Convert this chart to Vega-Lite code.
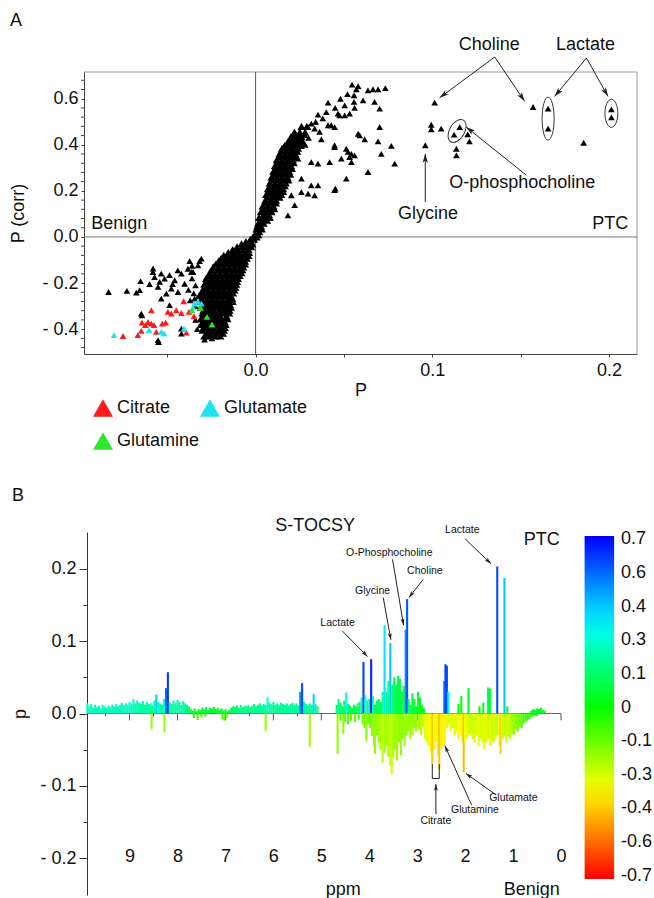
{
"$schema": "https://vega.github.io/schema/vega-lite/v6.json",
"padding": {"left": 9, "top": 12, "right": 0, "bottom": 0},
"spacing": 36,
"config": {
  "font": "Liberation Sans",
  "view": {"stroke": null},
  "axis": {"labelFont": "Liberation Sans", "titleFont": "Liberation Sans", "labelFontSize": 18, "titleFontSize": 18, "titleFontWeight": "normal", "labelColor": "#111", "titleColor": "#111", "domainColor": "#444", "tickColor": "#444", "grid": false, "labelOverlap": false, "labelFlush": false},
  "legend": {"labelFont": "Liberation Sans"},
  "text": {"font": "Liberation Sans", "color": "#111"},
  "title": {"font": "Liberation Sans", "fontSize": 18, "fontWeight": "normal", "color": "#111", "anchor": "start", "frame": "bounds"}
},
"resolve": {"scale": {"color": "independent", "x": "independent", "y": "independent"}, "legend": {"color": "independent"}},
"datasets": {
  "one": [{}],
  "aYMinor": [{"t":-0.48},{"t":-0.44},{"t":-0.36},{"t":-0.32},{"t":-0.28},{"t":-0.24},{"t":-0.16},{"t":-0.12},{"t":-0.08},{"t":-0.04},{"t":0.04},{"t":0.08},{"t":0.12},{"t":0.16},{"t":0.24},{"t":0.28},{"t":0.32},{"t":0.36},{"t":0.44},{"t":0.48},{"t":0.52},{"t":0.56},{"t":0.64},{"t":0.68}],
  "aSparse": [
{"x":0.0546,"y":0.661},{"x":0.057,"y":0.641},{"x":0.0557,"y":0.615},{"x":0.0557,"y":0.586},{"x":0.056,"y":0.56},{"x":0.0636,"y":0.636},{"x":0.0664,"y":0.641},{"x":0.0693,"y":0.641},{"x":0.0734,"y":0.646},{"x":0.0504,"y":0.571},{"x":0.0466,"y":0.535},{"x":0.0504,"y":0.528},{"x":0.0532,"y":0.535},{"x":0.0608,"y":0.593},{"x":0.0673,"y":0.586},{"x":0.0702,"y":0.557},{"x":0.0428,"y":0.485},{"x":0.0702,"y":0.477},{"x":0.0589,"y":0.441},{"x":0.0617,"y":0.424},{"x":0.0693,"y":0.415},{"x":0.0768,"y":0.395},{"x":0.0447,"y":0.398},{"x":0.0513,"y":0.383},{"x":0.0542,"y":0.361},{"x":0.056,"y":0.354},{"x":0.0485,"y":0.34},{"x":0.0532,"y":0.347},{"x":0.0711,"y":0.361},{"x":0.0787,"y":0.318},{"x":0.0636,"y":0.282},{"x":0.0513,"y":0.253},{"x":0.0451,"y":0.21},
{"x":0.041,"y":0.583},{"x":0.0353,"y":0.531},{"x":0.040,"y":0.542},{"x":0.0475,"y":0.528},{"x":0.0297,"y":0.477},{"x":0.0334,"y":0.47},{"x":0.0362,"y":0.456},{"x":0.0315,"y":0.492},{"x":0.041,"y":0.485},{"x":0.0447,"y":0.477},{"x":0.0372,"y":0.424},{"x":0.0447,"y":0.39},{"x":0.058,"y":0.448},{"x":0.0523,"y":0.369},{"x":0.0315,"y":0.325},{"x":0.0353,"y":0.318},{"x":0.0419,"y":0.325},{"x":0.0542,"y":0.325},{"x":0.0259,"y":0.253},{"x":0.0315,"y":0.224},{"x":0.0353,"y":0.224},{"x":0.0447,"y":0.203},{"x":0.0334,"y":0.181},{"x":0.0259,"y":0.195},{"x":0.0202,"y":0.181},{"x":0.0183,"y":0.094},{"x":0.0221,"y":0.138},{"x":0.0297,"y":0.188},{"x":0.024,"y":0.34},{"x":0.0221,"y":0.369},{"x":0.028,"y":0.40},{"x":0.030,"y":0.43},{"x":0.034,"y":0.50},{"x":0.038,"y":0.515},{"x":0.045,"y":0.56},{"x":0.048,"y":0.60},{"x":0.052,"y":0.62},{"x":0.058,"y":0.655},
{"x":0.1013,"y":0.583},{"x":0.0994,"y":0.487},{"x":0.0994,"y":0.467},{"x":0.105,"y":0.47},{"x":0.096,"y":0.398},{"x":0.1123,"y":0.444},{"x":0.1155,"y":0.477},{"x":0.12,"y":0.445},{"x":0.121,"y":0.415},{"x":0.1136,"y":0.383},{"x":0.1136,"y":0.354},{"x":0.157,"y":0.564},{"x":0.1655,"y":0.557},{"x":0.1655,"y":0.47},{"x":0.2013,"y":0.554},{"x":0.2013,"y":0.519},{"x":0.1856,"y":0.409},
{"x":-0.0832,"y":-0.239},{"x":-0.0728,"y":-0.234},{"x":-0.0675,"y":-0.242},{"x":-0.0656,"y":-0.231},{"x":-0.0651,"y":-0.192},{"x":-0.0581,"y":-0.152},{"x":-0.0572,"y":-0.174},{"x":-0.0534,"y":-0.159},{"x":-0.0543,"y":-0.195},{"x":-0.0515,"y":-0.181},{"x":-0.0487,"y":-0.166},{"x":-0.0458,"y":-0.188},{"x":-0.042,"y":-0.159},{"x":-0.0383,"y":-0.138},{"x":-0.0354,"y":-0.152},{"x":-0.0326,"y":-0.123},{"x":-0.0307,"y":-0.094},{"x":-0.0552,"y":-0.217},{"x":-0.0534,"y":-0.268},{"x":-0.0477,"y":-0.224},{"x":-0.0439,"y":-0.239},{"x":-0.0402,"y":-0.203},{"x":-0.0505,"y":-0.246},{"x":-0.0647,"y":-0.333},{"x":-0.0487,"y":-0.296},{"x":-0.042,"y":-0.398},{"x":-0.0552,"y":-0.448},{"x":-0.0345,"y":-0.268},{"x":-0.0279,"y":-0.354},{"x":-0.0643,"y":-0.34},{"x":-0.0549,"y":-0.456},{"x":-0.042,"y":-0.419},{"x":-0.0289,"y":-0.445},{"x":-0.0247,"y":-0.44},{"x":-0.058,"y":-0.137},{"x":-0.0373,"y":-0.105},{"x":-0.0317,"y":-0.105},{"x":-0.0364,"y":-0.152},{"x":-0.036,"y":-0.18},{"x":-0.034,"y":-0.21},{"x":-0.038,"y":-0.23},{"x":-0.036,"y":-0.125},{"x":-0.044,"y":-0.145},{"x":-0.047,"y":-0.205},{"x":-0.060,"y":-0.205},{"x":-0.035,"y":-0.245},{"x":-0.037,"y":-0.275},{"x":-0.034,"y":-0.30},{"x":-0.033,"y":-0.40},{"x":-0.034,"y":-0.36}
  ],
  "aDense": [
{"x":-0.029,"y":-0.43},{"x":-0.026,"y":-0.43},{"x":-0.023,"y":-0.43},{"x":-0.020,"y":-0.43},
{"x":-0.030,"y":-0.405},{"x":-0.027,"y":-0.405},{"x":-0.024,"y":-0.405},{"x":-0.021,"y":-0.405},{"x":-0.018,"y":-0.405},
{"x":-0.031,"y":-0.38},{"x":-0.028,"y":-0.38},{"x":-0.025,"y":-0.38},{"x":-0.022,"y":-0.38},{"x":-0.019,"y":-0.38},{"x":-0.017,"y":-0.38},
{"x":-0.031,"y":-0.355},{"x":-0.028,"y":-0.355},{"x":-0.025,"y":-0.355},{"x":-0.022,"y":-0.355},{"x":-0.019,"y":-0.355},{"x":-0.016,"y":-0.355},
{"x":-0.030,"y":-0.33},{"x":-0.027,"y":-0.33},{"x":-0.024,"y":-0.33},{"x":-0.021,"y":-0.33},{"x":-0.018,"y":-0.33},{"x":-0.015,"y":-0.33},
{"x":-0.031,"y":-0.305},{"x":-0.028,"y":-0.305},{"x":-0.025,"y":-0.305},{"x":-0.022,"y":-0.305},{"x":-0.019,"y":-0.305},{"x":-0.016,"y":-0.305},{"x":-0.014,"y":-0.305},
{"x":-0.031,"y":-0.28},{"x":-0.028,"y":-0.28},{"x":-0.025,"y":-0.28},{"x":-0.022,"y":-0.28},{"x":-0.019,"y":-0.28},{"x":-0.016,"y":-0.28},{"x":-0.013,"y":-0.28},
{"x":-0.032,"y":-0.255},{"x":-0.029,"y":-0.255},{"x":-0.026,"y":-0.255},{"x":-0.023,"y":-0.255},{"x":-0.020,"y":-0.255},{"x":-0.017,"y":-0.255},{"x":-0.014,"y":-0.255},
{"x":-0.030,"y":-0.23},{"x":-0.027,"y":-0.23},{"x":-0.024,"y":-0.23},{"x":-0.021,"y":-0.23},{"x":-0.018,"y":-0.23},{"x":-0.015,"y":-0.23},{"x":-0.012,"y":-0.23},
{"x":-0.029,"y":-0.205},{"x":-0.026,"y":-0.205},{"x":-0.023,"y":-0.205},{"x":-0.020,"y":-0.205},{"x":-0.017,"y":-0.205},{"x":-0.014,"y":-0.205},{"x":-0.011,"y":-0.205},
{"x":-0.028,"y":-0.18},{"x":-0.025,"y":-0.18},{"x":-0.022,"y":-0.18},{"x":-0.019,"y":-0.18},{"x":-0.016,"y":-0.18},{"x":-0.013,"y":-0.18},{"x":-0.010,"y":-0.18},
{"x":-0.026,"y":-0.155},{"x":-0.023,"y":-0.155},{"x":-0.020,"y":-0.155},{"x":-0.017,"y":-0.155},{"x":-0.014,"y":-0.155},{"x":-0.011,"y":-0.155},{"x":-0.008,"y":-0.155},
{"x":-0.024,"y":-0.13},{"x":-0.021,"y":-0.13},{"x":-0.018,"y":-0.13},{"x":-0.015,"y":-0.13},{"x":-0.012,"y":-0.13},{"x":-0.009,"y":-0.13},{"x":-0.007,"y":-0.13},
{"x":-0.021,"y":-0.105},{"x":-0.018,"y":-0.105},{"x":-0.015,"y":-0.105},{"x":-0.012,"y":-0.105},{"x":-0.009,"y":-0.105},{"x":-0.006,"y":-0.105},
{"x":-0.018,"y":-0.08},{"x":-0.015,"y":-0.08},{"x":-0.012,"y":-0.08},{"x":-0.009,"y":-0.08},{"x":-0.006,"y":-0.08},{"x":-0.004,"y":-0.08},
{"x":-0.013,"y":-0.055},{"x":-0.010,"y":-0.055},{"x":-0.007,"y":-0.055},{"x":-0.004,"y":-0.055},
{"x":-0.008,"y":-0.03},{"x":-0.005,"y":-0.03},{"x":-0.002,"y":-0.03},
{"x":-0.003,"y":-0.01},{"x":-0.001,"y":-0.01},
{"x":-0.0005,"y":0.01},{"x":0.0015,"y":0.01},
{"x":-0.0275,"y":-0.4175},{"x":-0.0245,"y":-0.4175},{"x":-0.0215,"y":-0.4175},{"x":-0.0185,"y":-0.4175},
{"x":-0.0295,"y":-0.3925},{"x":-0.0265,"y":-0.3925},{"x":-0.0235,"y":-0.3925},{"x":-0.0205,"y":-0.3925},{"x":-0.0175,"y":-0.3925},
{"x":-0.0295,"y":-0.3675},{"x":-0.0265,"y":-0.3675},{"x":-0.0235,"y":-0.3675},{"x":-0.0205,"y":-0.3675},{"x":-0.0175,"y":-0.3675},
{"x":-0.0295,"y":-0.3425},{"x":-0.0265,"y":-0.3425},{"x":-0.0235,"y":-0.3425},{"x":-0.0205,"y":-0.3425},{"x":-0.0165,"y":-0.3425},
{"x":-0.0295,"y":-0.3175},{"x":-0.0265,"y":-0.3175},{"x":-0.0235,"y":-0.3175},{"x":-0.0205,"y":-0.3175},{"x":-0.0175,"y":-0.3175},{"x":-0.0148,"y":-0.3175},
{"x":-0.0295,"y":-0.2925},{"x":-0.0265,"y":-0.2925},{"x":-0.0235,"y":-0.2925},{"x":-0.0205,"y":-0.2925},{"x":-0.0175,"y":-0.2925},{"x":-0.0145,"y":-0.2925},
{"x":-0.0305,"y":-0.2675},{"x":-0.0275,"y":-0.2675},{"x":-0.0245,"y":-0.2675},{"x":-0.0215,"y":-0.2675},{"x":-0.0185,"y":-0.2675},{"x":-0.0155,"y":-0.2675},{"x":-0.0132,"y":-0.2675},
{"x":-0.0305,"y":-0.2425},{"x":-0.0275,"y":-0.2425},{"x":-0.0245,"y":-0.2425},{"x":-0.0215,"y":-0.2425},{"x":-0.0185,"y":-0.2425},{"x":-0.0155,"y":-0.2425},{"x":-0.0128,"y":-0.2425},
{"x":-0.0285,"y":-0.2175},{"x":-0.0255,"y":-0.2175},{"x":-0.0225,"y":-0.2175},{"x":-0.0195,"y":-0.2175},{"x":-0.0165,"y":-0.2175},{"x":-0.0135,"y":-0.2175},{"x":-0.0115,"y":-0.2175},
{"x":-0.0275,"y":-0.1925},{"x":-0.0245,"y":-0.1925},{"x":-0.0215,"y":-0.1925},{"x":-0.0185,"y":-0.1925},{"x":-0.0155,"y":-0.1925},{"x":-0.0125,"y":-0.1925},{"x":-0.0105,"y":-0.1925},
{"x":-0.0265,"y":-0.1675},{"x":-0.0235,"y":-0.1675},{"x":-0.0205,"y":-0.1675},{"x":-0.0175,"y":-0.1675},{"x":-0.0145,"y":-0.1675},{"x":-0.0115,"y":-0.1675},{"x":-0.009,"y":-0.1675},
{"x":-0.0245,"y":-0.1425},{"x":-0.0215,"y":-0.1425},{"x":-0.0185,"y":-0.1425},{"x":-0.0155,"y":-0.1425},{"x":-0.0125,"y":-0.1425},{"x":-0.0095,"y":-0.1425},{"x":-0.0075,"y":-0.1425},
{"x":-0.0225,"y":-0.1175},{"x":-0.0195,"y":-0.1175},{"x":-0.0165,"y":-0.1175},{"x":-0.0135,"y":-0.1175},{"x":-0.0105,"y":-0.1175},{"x":-0.0075,"y":-0.1175},{"x":-0.006,"y":-0.1175},
{"x":-0.0195,"y":-0.0925},{"x":-0.0165,"y":-0.0925},{"x":-0.0135,"y":-0.0925},{"x":-0.0105,"y":-0.0925},{"x":-0.0075,"y":-0.0925},{"x":-0.005,"y":-0.0925},
{"x":-0.0155,"y":-0.0675},{"x":-0.0125,"y":-0.0675},{"x":-0.0095,"y":-0.0675},{"x":-0.0065,"y":-0.0675},{"x":-0.0038,"y":-0.0675},
{"x":-0.0105,"y":-0.0425},{"x":-0.0075,"y":-0.0425},{"x":-0.0045,"y":-0.0425},{"x":-0.0025,"y":-0.0425},
{"x":-0.0055,"y":-0.02},{"x":-0.0025,"y":-0.02},
{"x":-0.0015,"y":0.0},{"x":0.0005,"y":0.0},
{"x":0.0005,"y":0.035},{"x":0.0035,"y":0.035},
{"x":0.0015,"y":0.06},{"x":0.0045,"y":0.06},
{"x":0.002,"y":0.085},{"x":0.005,"y":0.085},{"x":0.008,"y":0.085},
{"x":0.003,"y":0.11},{"x":0.006,"y":0.11},{"x":0.009,"y":0.11},
{"x":0.004,"y":0.135},{"x":0.007,"y":0.135},{"x":0.010,"y":0.135},
{"x":0.0055,"y":0.16},{"x":0.0085,"y":0.16},{"x":0.0115,"y":0.16},
{"x":0.006,"y":0.185},{"x":0.009,"y":0.185},{"x":0.012,"y":0.185},{"x":0.0145,"y":0.185},
{"x":0.007,"y":0.21},{"x":0.010,"y":0.21},{"x":0.013,"y":0.21},{"x":0.0155,"y":0.21},
{"x":0.008,"y":0.235},{"x":0.011,"y":0.235},{"x":0.014,"y":0.235},{"x":0.017,"y":0.235},
{"x":0.009,"y":0.26},{"x":0.012,"y":0.26},{"x":0.015,"y":0.26},{"x":0.018,"y":0.26},
{"x":0.010,"y":0.285},{"x":0.013,"y":0.285},{"x":0.016,"y":0.285},{"x":0.019,"y":0.285},
{"x":0.011,"y":0.31},{"x":0.014,"y":0.31},{"x":0.017,"y":0.31},{"x":0.020,"y":0.31},
{"x":0.012,"y":0.335},{"x":0.015,"y":0.335},{"x":0.018,"y":0.335},{"x":0.021,"y":0.335},
{"x":0.0135,"y":0.36},{"x":0.0165,"y":0.36},{"x":0.0195,"y":0.36},{"x":0.0225,"y":0.36},
{"x":0.015,"y":0.385},{"x":0.018,"y":0.385},{"x":0.021,"y":0.385},{"x":0.024,"y":0.385},
{"x":0.018,"y":0.41},{"x":0.021,"y":0.41},{"x":0.024,"y":0.41},{"x":0.027,"y":0.41},
{"x":0.020,"y":0.435},{"x":0.023,"y":0.435},{"x":0.026,"y":0.435},
{"x":0.022,"y":0.455},{"x":0.025,"y":0.455},{"x":0.028,"y":0.455},
{"x":0.026,"y":0.48},{"x":0.029,"y":0.48},
{"x":0.002,"y":0.0225},
{"x":0.001,"y":0.0475},{"x":0.003,"y":0.0475},
{"x":0.0035,"y":0.0725},{"x":0.0065,"y":0.0725},
{"x":0.0045,"y":0.0975},{"x":0.0075,"y":0.0975},
{"x":0.0045,"y":0.1225},{"x":0.0075,"y":0.1225},{"x":0.0105,"y":0.1225},
{"x":0.0055,"y":0.1475},{"x":0.0085,"y":0.1475},{"x":0.0115,"y":0.1475},
{"x":0.0075,"y":0.1725},{"x":0.0105,"y":0.1725},{"x":0.0135,"y":0.1725},
{"x":0.0075,"y":0.1975},{"x":0.0105,"y":0.1975},{"x":0.0135,"y":0.1975},{"x":0.0155,"y":0.1975},
{"x":0.0085,"y":0.2225},{"x":0.0115,"y":0.2225},{"x":0.0145,"y":0.2225},{"x":0.0165,"y":0.2225},
{"x":0.0095,"y":0.2475},{"x":0.0125,"y":0.2475},{"x":0.0155,"y":0.2475},{"x":0.0185,"y":0.2475},
{"x":0.0105,"y":0.2725},{"x":0.0135,"y":0.2725},{"x":0.0165,"y":0.2725},{"x":0.0195,"y":0.2725},
{"x":0.0115,"y":0.2975},{"x":0.0145,"y":0.2975},{"x":0.0175,"y":0.2975},{"x":0.0205,"y":0.2975},
{"x":0.0125,"y":0.3225},{"x":0.0155,"y":0.3225},{"x":0.0185,"y":0.3225},{"x":0.0215,"y":0.3225},
{"x":0.0135,"y":0.3475},{"x":0.0165,"y":0.3475},{"x":0.0195,"y":0.3475},{"x":0.0225,"y":0.3475},
{"x":0.0145,"y":0.3725},{"x":0.0175,"y":0.3725},{"x":0.0205,"y":0.3725},{"x":0.0235,"y":0.3725},
{"x":0.0165,"y":0.3975},{"x":0.0195,"y":0.3975},{"x":0.0225,"y":0.3975},{"x":0.0255,"y":0.3975},
{"x":0.0195,"y":0.4225},{"x":0.0225,"y":0.4225},{"x":0.0255,"y":0.4225},
{"x":0.0215,"y":0.445},{"x":0.0245,"y":0.445},{"x":0.0275,"y":0.445}
  ],
  "aColor": [
{"x":-0.0407,"y":-0.279,"g":"Citrate"},{"x":-0.059,"y":-0.318,"g":"Citrate"},{"x":-0.0496,"y":-0.325,"g":"Citrate"},{"x":-0.0449,"y":-0.318,"g":"Citrate"},{"x":-0.042,"y":-0.33,"g":"Citrate"},{"x":-0.0377,"y":-0.325,"g":"Citrate"},{"x":-0.0349,"y":-0.344,"g":"Citrate"},{"x":-0.0643,"y":-0.372,"g":"Citrate"},{"x":-0.0624,"y":-0.383,"g":"Citrate"},{"x":-0.0609,"y":-0.369,"g":"Citrate"},{"x":-0.059,"y":-0.376,"g":"Citrate"},{"x":-0.0575,"y":-0.383,"g":"Citrate"},{"x":-0.0528,"y":-0.376,"g":"Citrate"},{"x":-0.0509,"y":-0.372,"g":"Citrate"},{"x":-0.0647,"y":-0.408,"g":"Citrate"},{"x":-0.0666,"y":-0.426,"g":"Citrate"},{"x":-0.0562,"y":-0.412,"g":"Citrate"},{"x":-0.0392,"y":-0.415,"g":"Citrate"},{"x":-0.075,"y":-0.43,"g":"Citrate"},{"x":-0.0477,"y":-0.333,"g":"Citrate"},
{"x":-0.0801,"y":-0.426,"g":"Glutamate"},{"x":-0.0603,"y":-0.405,"g":"Glutamate"},{"x":-0.0534,"y":-0.412,"g":"Glutamate"},{"x":-0.0518,"y":-0.419,"g":"Glutamate"},{"x":-0.0405,"y":-0.398,"g":"Glutamate"},{"x":-0.0345,"y":-0.289,"g":"Glutamate"},{"x":-0.0326,"y":-0.282,"g":"Glutamate"},{"x":-0.0307,"y":-0.289,"g":"Glutamate"},{"x":-0.0354,"y":-0.306,"g":"Glutamate"},
{"x":-0.036,"y":-0.318,"g":"Glutamine"},{"x":-0.0311,"y":-0.308,"g":"Glutamine"},{"x":-0.0275,"y":-0.347,"g":"Glutamine"},{"x":-0.0247,"y":-0.38,"g":"Glutamine"}
  ],
  "aArrows": [
{"x1":0.1353,"y1":0.781,"x2":0.1041,"y2":0.604,"ang":233.5},
{"x1":0.1353,"y1":0.781,"x2":0.1522,"y2":0.589,"ang":145.9},
{"x1":0.1872,"y1":0.777,"x2":0.1692,"y2":0.61,"ang":219.6},
{"x1":0.1872,"y1":0.777,"x2":0.1994,"y2":0.61,"ang":150.5},
{"x1":0.096,"y1":0.152,"x2":0.096,"y2":0.361,"ang":0},
{"x1":0.1532,"y1":0.268,"x2":0.1192,"y2":0.477,"ang":308.8}
  ],
  "aText": [
{"label":"Choline","x":0.1322,"y":0.832},{"label":"Lactate","x":0.1866,"y":0.832},{"label":"Glycine","x":0.0976,"y":0.1},{"label":"O-phosphocholine","x":0.1509,"y":0.234}
  ],
  "spec": [
{"ppm":9.88,"p":0.014,"r":0.25},{"ppm":9.84,"p":0.010,"r":0.25},{"ppm":9.80,"p":0.013,"r":0.25},{"ppm":9.76,"p":0.008,"r":0.25},{"ppm":9.72,"p":0.012,"r":0.25},{"ppm":9.68,"p":0.009,"r":0.25},{"ppm":9.64,"p":0.011,"r":0.25},{"ppm":9.60,"p":0.007,"r":0.25},{"ppm":9.56,"p":0.012,"r":0.25},{"ppm":9.52,"p":0.010,"r":0.25},{"ppm":9.48,"p":0.008,"r":0.25},{"ppm":9.44,"p":0.011,"r":0.25},{"ppm":9.40,"p":0.009,"r":0.25},{"ppm":9.36,"p":0.012,"r":0.25},{"ppm":9.32,"p":0.010,"r":0.25},{"ppm":9.28,"p":0.013,"r":0.25},{"ppm":9.24,"p":0.009,"r":0.25},{"ppm":9.20,"p":0.012,"r":0.25},{"ppm":9.16,"p":0.015,"r":0.27},{"ppm":9.12,"p":0.011,"r":0.25},{"ppm":9.08,"p":0.014,"r":0.25},{"ppm":9.04,"p":0.012,"r":0.25},{"ppm":9.00,"p":0.016,"r":0.27},{"ppm":8.96,"p":0.013,"r":0.22},{"ppm":8.92,"p":0.020,"r":0.3},{"ppm":8.88,"p":0.014,"r":0.22},{"ppm":8.84,"p":0.018,"r":0.25},{"ppm":8.80,"p":0.015,"r":0.22},{"ppm":8.76,"p":0.013,"r":0.2},{"ppm":8.72,"p":0.017,"r":0.22},{"ppm":8.68,"p":0.012,"r":0.2},{"ppm":8.64,"p":0.016,"r":0.22},{"ppm":8.60,"p":0.013,"r":0.2},{"ppm":8.56,"p":0.014,"r":0.2},{"ppm":8.52,"p":0.011,"r":0.2},{"ppm":8.48,"p":0.018,"r":0.25},{"ppm":8.44,"p":0.026,"r":0.42},{"ppm":8.40,"p":0.016,"r":0.25},{"ppm":8.36,"p":0.014,"r":0.22},{"ppm":8.32,"p":0.012,"r":0.2},{"ppm":8.28,"p":0.020,"r":0.3},{"ppm":8.24,"p":0.035,"r":0.55},{"ppm":8.20,"p":0.057,"r":0.63},{"ppm":8.16,"p":0.015,"r":0.22},{"ppm":8.12,"p":0.013,"r":0.2},{"ppm":8.08,"p":0.018,"r":0.25},{"ppm":8.04,"p":0.014,"r":0.2},{"ppm":8.00,"p":0.019,"r":0.25},{"ppm":7.96,"p":0.016,"r":0.22},{"ppm":7.92,"p":0.012,"r":0.2},{"ppm":7.88,"p":0.017,"r":0.22},{"ppm":7.84,"p":0.014,"r":0.2},{"ppm":7.80,"p":0.012,"r":0.18},{"ppm":7.76,"p":0.010,"r":0.15},{"ppm":7.72,"p":0.006,"r":0.05},{"ppm":7.68,"p":0.004,"r":0.05},{"ppm":7.64,"p":0.007,"r":0.05},{"ppm":7.60,"p":0.003,"r":0.03},{"ppm":7.56,"p":0.006,"r":0.05},{"ppm":7.52,"p":0.005,"r":0.05},{"ppm":7.48,"p":0.008,"r":0.06},{"ppm":7.44,"p":0.006,"r":0.05},{"ppm":7.40,"p":0.009,"r":0.08},{"ppm":7.36,"p":0.005,"r":0.05},{"ppm":7.32,"p":0.008,"r":0.06},{"ppm":7.28,"p":0.007,"r":0.06},{"ppm":7.24,"p":0.009,"r":0.08},{"ppm":7.20,"p":0.006,"r":0.05},{"ppm":7.16,"p":0.008,"r":0.06},{"ppm":7.12,"p":0.005,"r":0.05},{"ppm":7.08,"p":0.007,"r":0.05},{"ppm":7.04,"p":0.004,"r":0.03},{"ppm":7.00,"p":0.006,"r":0.05},{"ppm":6.96,"p":0.003,"r":0.03},{"ppm":6.92,"p":0.005,"r":0.05},{"ppm":6.88,"p":0.008,"r":0.1},{"ppm":6.84,"p":0.010,"r":0.15},{"ppm":6.80,"p":0.009,"r":0.15},{"ppm":6.76,"p":0.011,"r":0.2},{"ppm":6.72,"p":0.008,"r":0.15},{"ppm":6.68,"p":0.012,"r":0.2},{"ppm":6.64,"p":0.009,"r":0.15},{"ppm":6.60,"p":0.011,"r":0.18},{"ppm":6.56,"p":0.010,"r":0.18},{"ppm":6.52,"p":0.012,"r":0.2},{"ppm":6.48,"p":0.009,"r":0.15},{"ppm":6.44,"p":0.011,"r":0.18},{"ppm":6.40,"p":0.013,"r":0.2},{"ppm":6.36,"p":0.010,"r":0.18},{"ppm":6.32,"p":0.012,"r":0.2},{"ppm":6.28,"p":0.014,"r":0.22},{"ppm":6.24,"p":0.011,"r":0.18},{"ppm":6.20,"p":0.013,"r":0.2},{"ppm":6.16,"p":0.012,"r":0.2},{"ppm":6.12,"p":0.022,"r":0.32},{"ppm":6.08,"p":0.015,"r":0.22},{"ppm":6.04,"p":0.013,"r":0.2},{"ppm":6.00,"p":0.016,"r":0.22},{"ppm":5.96,"p":0.012,"r":0.2},{"ppm":5.92,"p":0.014,"r":0.2},{"ppm":5.88,"p":0.011,"r":0.18},{"ppm":5.84,"p":0.015,"r":0.22},{"ppm":5.80,"p":0.013,"r":0.2},{"ppm":5.76,"p":0.012,"r":0.2},{"ppm":5.72,"p":0.014,"r":0.2},{"ppm":5.68,"p":0.011,"r":0.18},{"ppm":5.64,"p":0.013,"r":0.2},{"ppm":5.60,"p":0.015,"r":0.22},{"ppm":5.56,"p":0.012,"r":0.2},{"ppm":5.52,"p":0.014,"r":0.2},{"ppm":5.48,"p":0.011,"r":0.18},{"ppm":5.44,"p":0.030,"r":0.5},{"ppm":5.40,"p":0.042,"r":0.6},{"ppm":5.36,"p":0.016,"r":0.22},{"ppm":5.32,"p":0.013,"r":0.2},{"ppm":5.28,"p":0.011,"r":0.18},{"ppm":5.24,"p":0.014,"r":0.2},{"ppm":5.20,"p":0.012,"r":0.2},{"ppm":5.16,"p":0.027,"r":0.4},{"ppm":5.12,"p":0.013,"r":0.2},{"ppm":5.08,"p":0.010,"r":0.18},
{"ppm":8.54,"p":-0.022,"r":-0.2},{"ppm":8.27,"p":-0.026,"r":-0.2},{"ppm":7.66,"p":-0.006,"r":-0.08},{"ppm":7.58,"p":-0.009,"r":-0.1},{"ppm":7.50,"p":-0.005,"r":-0.08},{"ppm":7.42,"p":-0.004,"r":-0.05},{"ppm":7.06,"p":-0.008,"r":-0.1},{"ppm":7.02,"p":-0.010,"r":-0.12},{"ppm":6.98,"p":-0.006,"r":-0.08},{"ppm":6.16,"p":-0.024,"r":-0.2},{"ppm":5.24,"p":-0.046,"r":-0.22},
{"ppm":4.68,"p":0.012,"r":0.15},{"ppm":4.64,"p":0.020,"r":0.2},{"ppm":4.60,"p":0.015,"r":0.15},{"ppm":4.56,"p":0.010,"r":0.12},{"ppm":4.52,"p":0.018,"r":0.18},{"ppm":4.48,"p":0.029,"r":0.3},{"ppm":4.44,"p":0.013,"r":0.15},{"ppm":4.40,"p":0.011,"r":0.12},{"ppm":4.36,"p":0.008,"r":0.1},{"ppm":4.32,"p":0.012,"r":0.12},{"ppm":4.28,"p":0.010,"r":0.1},{"ppm":4.24,"p":0.014,"r":0.15},{"ppm":4.20,"p":0.016,"r":0.15},{"ppm":4.16,"p":0.022,"r":0.25},{"ppm":4.12,"p":0.071,"r":0.62},{"ppm":4.08,"p":0.025,"r":0.3},{"ppm":4.04,"p":0.018,"r":0.2},{"ppm":4.00,"p":0.020,"r":0.2},{"ppm":3.96,"p":0.075,"r":0.66},{"ppm":3.92,"p":0.024,"r":0.25},{"ppm":3.88,"p":0.012,"r":0.12},{"ppm":3.84,"p":0.018,"r":0.12},{"ppm":3.80,"p":0.020,"r":0.12},{"ppm":3.76,"p":0.016,"r":0.1},{"ppm":3.72,"p":0.030,"r":0.2},{"ppm":3.68,"p":0.122,"r":0.38},{"ppm":3.64,"p":0.030,"r":0.15},{"ppm":3.60,"p":0.045,"r":0.2},{"ppm":3.56,"p":0.097,"r":0.42},{"ppm":3.52,"p":0.040,"r":0.15},{"ppm":3.48,"p":0.050,"r":0.1},{"ppm":3.44,"p":0.040,"r":0.1},{"ppm":3.40,"p":0.052,"r":0.1},{"ppm":3.36,"p":0.048,"r":0.1},{"ppm":3.32,"p":0.030,"r":0.08},{"ppm":3.28,"p":0.038,"r":0.1},{"ppm":3.24,"p":0.116,"r":0.5},{"ppm":3.21,"p":0.158,"r":0.58},{"ppm":3.18,"p":0.020,"r":0.1},{"ppm":3.14,"p":0.012,"r":0.08},{"ppm":3.10,"p":0.028,"r":0.08},{"ppm":3.06,"p":0.020,"r":0.06},{"ppm":3.02,"p":0.010,"r":0.05},{"ppm":2.98,"p":0.030,"r":0.05},{"ppm":2.94,"p":0.022,"r":0.05},{"ppm":2.90,"p":0.012,"r":0.05},
{"ppm":4.66,"p":-0.056,"r":-0.2},{"ppm":4.60,"p":-0.010,"r":-0.12},{"ppm":4.54,"p":-0.028,"r":-0.18},{"ppm":4.50,"p":-0.012,"r":-0.12},{"ppm":4.44,"p":-0.015,"r":-0.12},{"ppm":4.38,"p":-0.010,"r":-0.12},{"ppm":4.30,"p":-0.012,"r":-0.12},{"ppm":4.22,"p":-0.008,"r":-0.1},{"ppm":4.14,"p":-0.015,"r":-0.15},{"ppm":4.10,"p":-0.020,"r":-0.15},{"ppm":4.06,"p":-0.038,"r":-0.18},{"ppm":4.02,"p":-0.015,"r":-0.15},{"ppm":3.98,"p":-0.020,"r":-0.15},{"ppm":3.94,"p":-0.031,"r":-0.18},{"ppm":3.90,"p":-0.045,"r":-0.2},{"ppm":3.88,"p":-0.056,"r":-0.2},{"ppm":3.84,"p":-0.030,"r":-0.18},{"ppm":3.80,"p":-0.040,"r":-0.2},{"ppm":3.76,"p":-0.050,"r":-0.22},{"ppm":3.72,"p":-0.068,"r":-0.25},{"ppm":3.68,"p":-0.054,"r":-0.22},{"ppm":3.64,"p":-0.045,"r":-0.2},{"ppm":3.60,"p":-0.060,"r":-0.22},{"ppm":3.56,"p":-0.072,"r":-0.25},{"ppm":3.53,"p":-0.084,"r":-0.28},{"ppm":3.50,"p":-0.060,"r":-0.22},{"ppm":3.46,"p":-0.050,"r":-0.2},{"ppm":3.42,"p":-0.065,"r":-0.22},{"ppm":3.38,"p":-0.040,"r":-0.18},{"ppm":3.34,"p":-0.058,"r":-0.2},{"ppm":3.30,"p":-0.035,"r":-0.18},{"ppm":3.26,"p":-0.045,"r":-0.2},{"ppm":3.22,"p":-0.030,"r":-0.18},{"ppm":3.18,"p":-0.025,"r":-0.18},{"ppm":3.14,"p":-0.035,"r":-0.2},{"ppm":3.10,"p":-0.030,"r":-0.2},{"ppm":3.06,"p":-0.020,"r":-0.18},{"ppm":3.02,"p":-0.025,"r":-0.2},
{"ppm":2.96,"p":-0.022,"r":-0.22},{"ppm":2.92,"p":-0.030,"r":-0.25},{"ppm":2.88,"p":-0.018,"r":-0.25},{"ppm":2.84,"p":-0.035,"r":-0.3},{"ppm":2.80,"p":-0.040,"r":-0.3},{"ppm":2.76,"p":-0.045,"r":-0.32},{"ppm":2.72,"p":-0.055,"r":-0.35},{"ppm":2.685,"p":-0.070,"r":-0.42},{"ppm":2.64,"p":-0.050,"r":-0.35},{"ppm":2.60,"p":-0.040,"r":-0.33},{"ppm":2.56,"p":-0.058,"r":-0.38},{"ppm":2.54,"p":-0.077,"r":-0.42},{"ppm":2.50,"p":-0.050,"r":-0.36},{"ppm":2.46,"p":-0.045,"r":-0.35},{"ppm":2.42,"p":-0.044,"r":-0.35},{"ppm":2.38,"p":-0.020,"r":-0.3},{"ppm":2.34,"p":-0.015,"r":-0.28},{"ppm":2.30,"p":-0.025,"r":-0.3},{"ppm":2.26,"p":-0.020,"r":-0.28},{"ppm":2.22,"p":-0.030,"r":-0.3},{"ppm":2.18,"p":-0.025,"r":-0.3},{"ppm":2.14,"p":-0.035,"r":-0.32},{"ppm":2.10,"p":-0.030,"r":-0.32},{"ppm":2.06,"p":-0.040,"r":-0.35},{"ppm":2.03,"p":-0.081,"r":-0.44},{"ppm":2.00,"p":-0.040,"r":-0.33},{"ppm":1.96,"p":-0.035,"r":-0.3},{"ppm":1.92,"p":-0.028,"r":-0.28},{"ppm":1.88,"p":-0.030,"r":-0.27},{"ppm":1.84,"p":-0.035,"r":-0.27},{"ppm":1.80,"p":-0.040,"r":-0.28},{"ppm":1.76,"p":-0.030,"r":-0.27},{"ppm":1.72,"p":-0.045,"r":-0.3},{"ppm":1.68,"p":-0.035,"r":-0.27},{"ppm":1.64,"p":-0.040,"r":-0.28},{"ppm":1.60,"p":-0.050,"r":-0.32},{"ppm":1.56,"p":-0.040,"r":-0.28},{"ppm":1.52,"p":-0.035,"r":-0.27},{"ppm":1.48,"p":-0.045,"r":-0.3},{"ppm":1.44,"p":-0.038,"r":-0.27},{"ppm":1.40,"p":-0.040,"r":-0.28},{"ppm":1.36,"p":-0.032,"r":-0.27},{"ppm":1.32,"p":-0.030,"r":-0.27},{"ppm":1.28,"p":-0.045,"r":-0.3},{"ppm":1.26,"p":-0.056,"r":-0.4},{"ppm":1.22,"p":-0.035,"r":-0.27},{"ppm":1.18,"p":-0.030,"r":-0.25},{"ppm":1.14,"p":-0.040,"r":-0.27},{"ppm":1.10,"p":-0.032,"r":-0.25},{"ppm":1.06,"p":-0.035,"r":-0.25},{"ppm":1.02,"p":-0.028,"r":-0.22},{"ppm":0.98,"p":-0.030,"r":-0.2},{"ppm":0.94,"p":-0.022,"r":-0.18},{"ppm":0.90,"p":-0.025,"r":-0.16},{"ppm":0.86,"p":-0.018,"r":-0.14},{"ppm":0.82,"p":-0.020,"r":-0.12},{"ppm":0.78,"p":-0.015,"r":-0.1},{"ppm":0.74,"p":-0.012,"r":-0.08},{"ppm":0.70,"p":-0.010,"r":-0.06},{"ppm":0.66,"p":-0.008,"r":-0.05},{"ppm":0.62,"p":-0.005,"r":-0.04},{"ppm":0.58,"p":-0.004,"r":-0.03},{"ppm":0.54,"p":-0.003,"r":-0.03},{"ppm":0.50,"p":-0.002,"r":-0.02},
{"ppm":2.86,"p":0.008,"r":0.05},{"ppm":2.44,"p":0.045,"r":0.45},{"ppm":2.41,"p":0.068,"r":0.62},{"ppm":2.38,"p":0.066,"r":0.6},{"ppm":2.35,"p":0.030,"r":0.35},{"ppm":2.14,"p":0.013,"r":0.0},{"ppm":2.08,"p":0.024,"r":0.02},{"ppm":1.93,"p":0.035,"r":0.05},{"ppm":1.70,"p":0.010,"r":0.0},{"ppm":1.62,"p":0.015,"r":0.05},{"ppm":1.52,"p":0.036,"r":0.08},{"ppm":1.48,"p":0.034,"r":0.1},{"ppm":1.33,"p":0.203,"r":0.6},{"ppm":1.18,"p":0.187,"r":0.42},{"ppm":1.12,"p":0.010,"r":0.05},{"ppm":0.62,"p":0.004,"r":0.05},{"ppm":0.58,"p":0.006,"r":0.05},{"ppm":0.54,"p":0.005,"r":0.05},{"ppm":0.50,"p":0.007,"r":0.05},{"ppm":0.46,"p":0.006,"r":0.05},{"ppm":0.42,"p":0.008,"r":0.05},{"ppm":0.38,"p":0.005,"r":0.05},{"ppm":0.34,"p":0.004,"r":0.05}
  ],
  "tMaj": [{"t":0},{"t":1},{"t":2},{"t":3},{"t":4},{"t":5},{"t":6},{"t":7},{"t":8},{"t":9}],
  "tMin": [{"t":0.5},{"t":1.5},{"t":2.5},{"t":3.5},{"t":4.5},{"t":5.5},{"t":6.5},{"t":7.5},{"t":8.5},{"t":9.5}],
  "bArrows": [
{"x1":2.004,"y1":0.2414,"x2":1.461,"y2":0.2069,"ang":133.9},
{"x1":3.514,"y1":0.2128,"x2":3.284,"y2":0.1218,"ang":170.5},
{"x1":2.873,"y1":0.1852,"x2":3.173,"y2":0.16,"ang":218.2},
{"x1":3.708,"y1":0.16,"x2":3.549,"y2":0.1017,"ang":169.8},
{"x1":4.564,"y1":0.1141,"x2":4.035,"y2":0.0786,"ang":135.5},
{"x1":1.378,"y1":-0.1113,"x2":1.983,"y2":-0.0828,"ang":305.5},
{"x1":1.864,"y1":-0.1265,"x2":2.422,"y2":-0.0446,"ang":335.8},
{"x1":2.61,"y1":-0.1389,"x2":2.61,"y2":-0.0975,"ang":0}
  ],
  "bText": [
{"label":"Lactate","ppm":2.058,"p":0.2528},{"label":"O-Phosphocholine","ppm":3.582,"p":0.2211},{"label":"Choline","ppm":2.839,"p":0.1968},{"label":"Glycine","ppm":3.931,"p":0.1692},{"label":"Lactate","ppm":4.662,"p":0.1246},{"label":"Glutamate","ppm":0.994,"p":-0.1172},{"label":"Glutamine","ppm":1.795,"p":-0.1334},{"label":"Citrate","ppm":2.61,"p":-0.148}
  ],
  "bBig": [
{"label":"S-TOCSY","ppm":5.13,"p":0.2593},{"label":"PTC","ppm":0.403,"p":0.2396},{"label":"ppm","ppm":4.543,"p":-0.2441},{"label":"Benign","ppm":0.612,"p":-0.2441}
  ],
  "bracket": [
{"ppm":2.685,"p":-0.0699,"o":1},{"ppm":2.685,"p":-0.0897,"o":2},{"ppm":2.539,"p":-0.0897,"o":3},{"ppm":2.539,"p":-0.0699,"o":4}
  ]
},
"vconcat": [
{
  "title": {"text": "A", "offset": 6},
  "width": 553, "height": 282,
  "layer": [
    {"data": {"name": "one"}, "mark": {"type": "rule", "color": "#999", "strokeWidth": 1}, "encoding": {"y": {"datum": 0.716, "type": "quantitative", "title": "P (corr)"}}},
    {"data": {"name": "one"}, "mark": {"type": "rule", "color": "#999", "strokeWidth": 1}, "encoding": {"x": {"datum": 0.2158, "type": "quantitative", "title": "P"}}},
    {"data": {"name": "one"}, "mark": {"type": "rule", "color": "#555", "strokeWidth": 1}, "encoding": {"x": {"datum": 0, "type": "quantitative", "title": "P"}}},
    {"data": {"name": "one"}, "mark": {"type": "rule", "color": "#777", "strokeWidth": 1}, "encoding": {"y": {"datum": 0, "type": "quantitative", "title": "P (corr)"}}},
    {"data": {"name": "aYMinor"}, "mark": {"type": "rule", "color": "#444", "strokeWidth": 1},
     "encoding": {"y": {"field": "t", "type": "quantitative", "title": "P (corr)"}, "x": {"datum": -0.0988, "type": "quantitative", "title": "P"}, "x2": {"datum": -0.0971}}},
    {"data": {"name": "aSparse"},
     "mark": {"type": "point", "shape": "triangle-up", "filled": true, "size": 45, "color": "#000", "opacity": 1, "strokeWidth": 0},
     "encoding": {
       "x": {"field": "x", "type": "quantitative", "title": "P",
             "scale": {"domain": [-0.0971, 0.2158], "nice": false, "zero": false},
             "axis": {"values": [-0.05, 0, 0.05, 0.1, 0.15, 0.2], "labelExpr": "round(datum.value*100) % 10 != 0 ? '' : format(datum.value, '.1f')", "tickSize": 3, "labelPadding": 4, "titlePadding": 2, "labelOverlap": false}},
       "y": {"field": "y", "type": "quantitative", "title": "P (corr)",
             "scale": {"domain": [-0.508, 0.716], "nice": false, "zero": false},
             "axis": {"values": [-0.4, -0.2, 0, 0.2, 0.4, 0.6], "labelExpr": "datum.value < 0 ? '- ' + format(-datum.value, '.1f') : format(datum.value, '.1f')", "tickSize": 3, "labelPadding": 3, "titlePadding": 14, "labelOverlap": false}}
     }},
    {"data": {"name": "aDense"},
     "mark": {"type": "point", "shape": "triangle-up", "filled": true, "size": 68, "color": "#000", "opacity": 1, "strokeWidth": 0},
     "encoding": {
       "x": {"field": "x", "type": "quantitative", "title": "P"},
       "y": {"field": "y", "type": "quantitative", "title": "P (corr)"}
     }},
    {"data": {"name": "aColor"},
     "mark": {"type": "point", "shape": "triangle-up", "filled": true, "size": 45, "opacity": 1, "strokeWidth": 0},
     "encoding": {
       "x": {"field": "x", "type": "quantitative", "title": "P"},
       "y": {"field": "y", "type": "quantitative", "title": "P (corr)"},
       "color": {"field": "g", "type": "nominal",
                 "scale": {"domain": ["Citrate", "Glutamine", "Glutamate"], "range": ["#ff1a1a", "#2ee62e", "#22e0f0"]},
                 "legend": {"orient": "none", "legendX": 9, "legendY": 326, "title": null, "columns": 2, "symbolType": "triangle-up", "symbolSize": 400, "symbolStrokeWidth": 0, "labelFontSize": 18, "labelOffset": 4, "columnPadding": 0, "rowPadding": 14, "padding": 0, "labelColor": "#111"}}
     }},
    {"data": {"name": "aArrows"},
     "mark": {"type": "rule", "color": "#222", "strokeWidth": 1},
     "encoding": {
       "x": {"field": "x1", "type": "quantitative", "title": "P"},
       "y": {"field": "y1", "type": "quantitative", "title": "P (corr)"},
       "x2": {"field": "x2"}, "y2": {"field": "y2"}
     }},
    {"data": {"name": "aArrows"},
     "mark": {"type": "point", "shape": "M0,0 L0.45,1.5 L0,1.15 L-0.45,1.5 Z", "filled": true, "size": 144, "color": "#222", "opacity": 1, "strokeWidth": 0},
     "encoding": {
       "x": {"field": "x2", "type": "quantitative", "title": "P"},
       "y": {"field": "y2", "type": "quantitative", "title": "P (corr)"},
       "angle": {"field": "ang", "type": "quantitative", "scale": null}
     }},
    {"data": {"name": "aText"},
     "mark": {"type": "text", "fontSize": 18, "align": "center", "baseline": "middle"},
     "encoding": {
       "x": {"field": "x", "type": "quantitative", "title": "P"},
       "y": {"field": "y", "type": "quantitative", "title": "P (corr)"},
       "text": {"field": "label"}
     }},
    {"data": {"values": [{"label": "Benign", "x": -0.093, "y": 0.0577}]},
     "mark": {"type": "text", "fontSize": 18, "align": "left", "baseline": "middle"},
     "encoding": {"x": {"field": "x", "type": "quantitative", "title": "P"}, "y": {"field": "y", "type": "quantitative", "title": "P (corr)"}, "text": {"field": "label"}}},
    {"data": {"values": [{"label": "PTC", "x": 0.2109, "y": 0.0577}]},
     "mark": {"type": "text", "fontSize": 18, "align": "right", "baseline": "middle"},
     "encoding": {"x": {"field": "x", "type": "quantitative", "title": "P"}, "y": {"field": "y", "type": "quantitative", "title": "P (corr)"}, "text": {"field": "label"}}},
    {"data": {"values": [{"x": 0.1655, "y": 0.5135}]},
     "mark": {"type": "point", "shape": "M0,-1 C0.155,-1 0.28,-0.55 0.28,0 C0.28,0.55 0.155,1 0,1 C-0.155,1 -0.28,0.55 -0.28,0 C-0.28,-0.55 -0.155,-1 0,-1 Z", "filled": false, "size": 1849, "color": "#333", "strokeWidth": 1, "opacity": 1},
     "encoding": {"x": {"field": "x", "type": "quantitative", "title": "P"}, "y": {"field": "y", "type": "quantitative", "title": "P (corr)"}}},
    {"data": {"values": [{"x": 0.2013, "y": 0.5365}]},
     "mark": {"type": "point", "shape": "M0,-1 C0.254,-1 0.46,-0.55 0.46,0 C0.46,0.55 0.254,1 0,1 C-0.254,1 -0.46,0.55 -0.46,0 C-0.46,-0.55 -0.254,-1 0,-1 Z", "filled": false, "size": 784, "color": "#333", "strokeWidth": 1, "opacity": 1},
     "encoding": {"x": {"field": "x", "type": "quantitative", "title": "P"}, "y": {"field": "y", "type": "quantitative", "title": "P (corr)"}}},
    {"data": {"values": [{"x": 0.114, "y": 0.46}]},
     "mark": {"type": "point", "shape": "M0,-1 C0.33,-1 0.6,-0.55 0.6,0 C0.6,0.55 0.33,1 0,1 C-0.33,1 -0.6,0.55 -0.6,0 C-0.6,-0.55 -0.33,-1 0,-1 Z", "filled": false, "size": 625, "angle": 30, "color": "#333", "strokeWidth": 1, "opacity": 1},
     "encoding": {"x": {"field": "x", "type": "quantitative", "title": "P"}, "y": {"field": "y", "type": "quantitative", "title": "P (corr)"}}}
  ]
},
{
  "title": {"text": "B", "offset": 12},
  "width": 477, "height": 363,
  "layer": [
    {"data": {"name": "one"}, "mark": {"type": "rule", "color": "#666", "strokeWidth": 1}, "encoding": {"x": {"datum": 9.88, "type": "quantitative", "title": null}, "x2": {"datum": 0}, "y": {"datum": 0, "type": "quantitative", "title": "p"}}},
    {"data": {"name": "tMaj"}, "mark": {"type": "rule", "color": "#555", "strokeWidth": 1},
     "encoding": {"x": {"field": "t", "type": "quantitative", "title": null}, "y": {"datum": 0, "type": "quantitative", "title": "p"}, "y2": {"datum": -0.0095}}},
    {"data": {"name": "tMin"}, "mark": {"type": "rule", "color": "#555", "strokeWidth": 1},
     "encoding": {"x": {"field": "t", "type": "quantitative", "title": null}, "y": {"datum": 0, "type": "quantitative", "title": "p"}, "y2": {"datum": -0.004}}},
    {"data": {"name": "spec"},
     "mark": {"type": "rule", "strokeWidth": 2.1},
     "encoding": {
       "x": {"field": "ppm", "type": "quantitative", "title": null,
             "scale": {"domain": [0, 9.95], "reverse": true, "nice": false, "zero": false},
             "axis": {"values": [0,1,2,3,4,5,6,7,8,9], "format": "d", "domain": false, "ticks": false, "labelPadding": 2, "offset": -50, "labelOverlap": false}},
       "y": {"field": "p", "type": "quantitative", "title": "p",
             "scale": {"domain": [-0.2506, 0.2506], "nice": false, "zero": false},
             "axis": {"values": [-0.2,-0.15,-0.1,-0.05,0,0.05,0.1,0.15,0.2], "labelExpr": "round(datum.value*100) % 10 != 0 ? '' : (datum.value < 0 ? '- ' + format(-datum.value, '.1f') : format(datum.value, '.1f'))", "tickSize": {"condition": {"test": "round(datum.value*100) % 10 != 0", "value": 4}, "value": 8}, "labelPadding": 3, "titlePadding": 10, "offset": -3, "domainColor": "#333", "tickColor": "#333", "labelOverlap": false}},
       "y2": {"datum": 0},
       "color": {"field": "r", "type": "quantitative",
                 "scale": {"type": "linear", "domain": [-0.7135, -0.53, -0.337, 0, 0.34, 0.7135], "range": ["#ff0000", "#ff8000", "#ffff00", "#00ff00", "#00ffff", "#0000ff"], "interpolate": "rgb"},
                 "legend": {"orient": "none", "legendX": 500.6, "legendY": 4, "direction": "vertical", "title": null, "gradientLength": 343, "gradientThickness": 29.5, "gradientStrokeWidth": 0, "labelFontSize": 18, "labelOffset": 7, "labelColor": "#111", "labelOverlap": false,
                            "values": [-0.7,-0.56,-0.42,-0.28,-0.14,0,0.14,0.28,0.42,0.56,0.7],
                            "labelExpr": "['-0.7','-0.6','-0.4','-0.3','-0.1','0','0.1','0.3','0.4','0.6','0.7'][round((datum.value+0.7)/0.14)]"}}
     }},
    {"data": {"name": "bracket"}, "mark": {"type": "line", "color": "#222", "strokeWidth": 1},
     "encoding": {"x": {"field": "ppm", "type": "quantitative", "title": null}, "y": {"field": "p", "type": "quantitative", "title": "p"}, "order": {"field": "o"}}},
    {"data": {"name": "bArrows"},
     "mark": {"type": "rule", "color": "#222", "strokeWidth": 1},
     "encoding": {
       "x": {"field": "x1", "type": "quantitative", "title": null},
       "y": {"field": "y1", "type": "quantitative", "title": "p"},
       "x2": {"field": "x2"}, "y2": {"field": "y2"}
     }},
    {"data": {"name": "bArrows"},
     "mark": {"type": "point", "shape": "M0,0 L0.45,1.5 L0,1.15 L-0.45,1.5 Z", "filled": true, "size": 80, "color": "#222", "opacity": 1, "strokeWidth": 0},
     "encoding": {
       "x": {"field": "x2", "type": "quantitative", "title": null},
       "y": {"field": "y2", "type": "quantitative", "title": "p"},
       "angle": {"field": "ang", "type": "quantitative", "scale": null}
     }},
    {"data": {"name": "bText"},
     "mark": {"type": "text", "fontSize": 10.5, "align": "center", "baseline": "middle"},
     "encoding": {"x": {"field": "ppm", "type": "quantitative", "title": null}, "y": {"field": "p", "type": "quantitative", "title": "p"}, "text": {"field": "label"}}},
    {"data": {"name": "bBig"},
     "mark": {"type": "text", "fontSize": 18, "align": "center", "baseline": "middle"},
     "encoding": {"x": {"field": "ppm", "type": "quantitative", "title": null}, "y": {"field": "p", "type": "quantitative", "title": "p"}, "text": {"field": "label"}}}
  ]
}
]
}
